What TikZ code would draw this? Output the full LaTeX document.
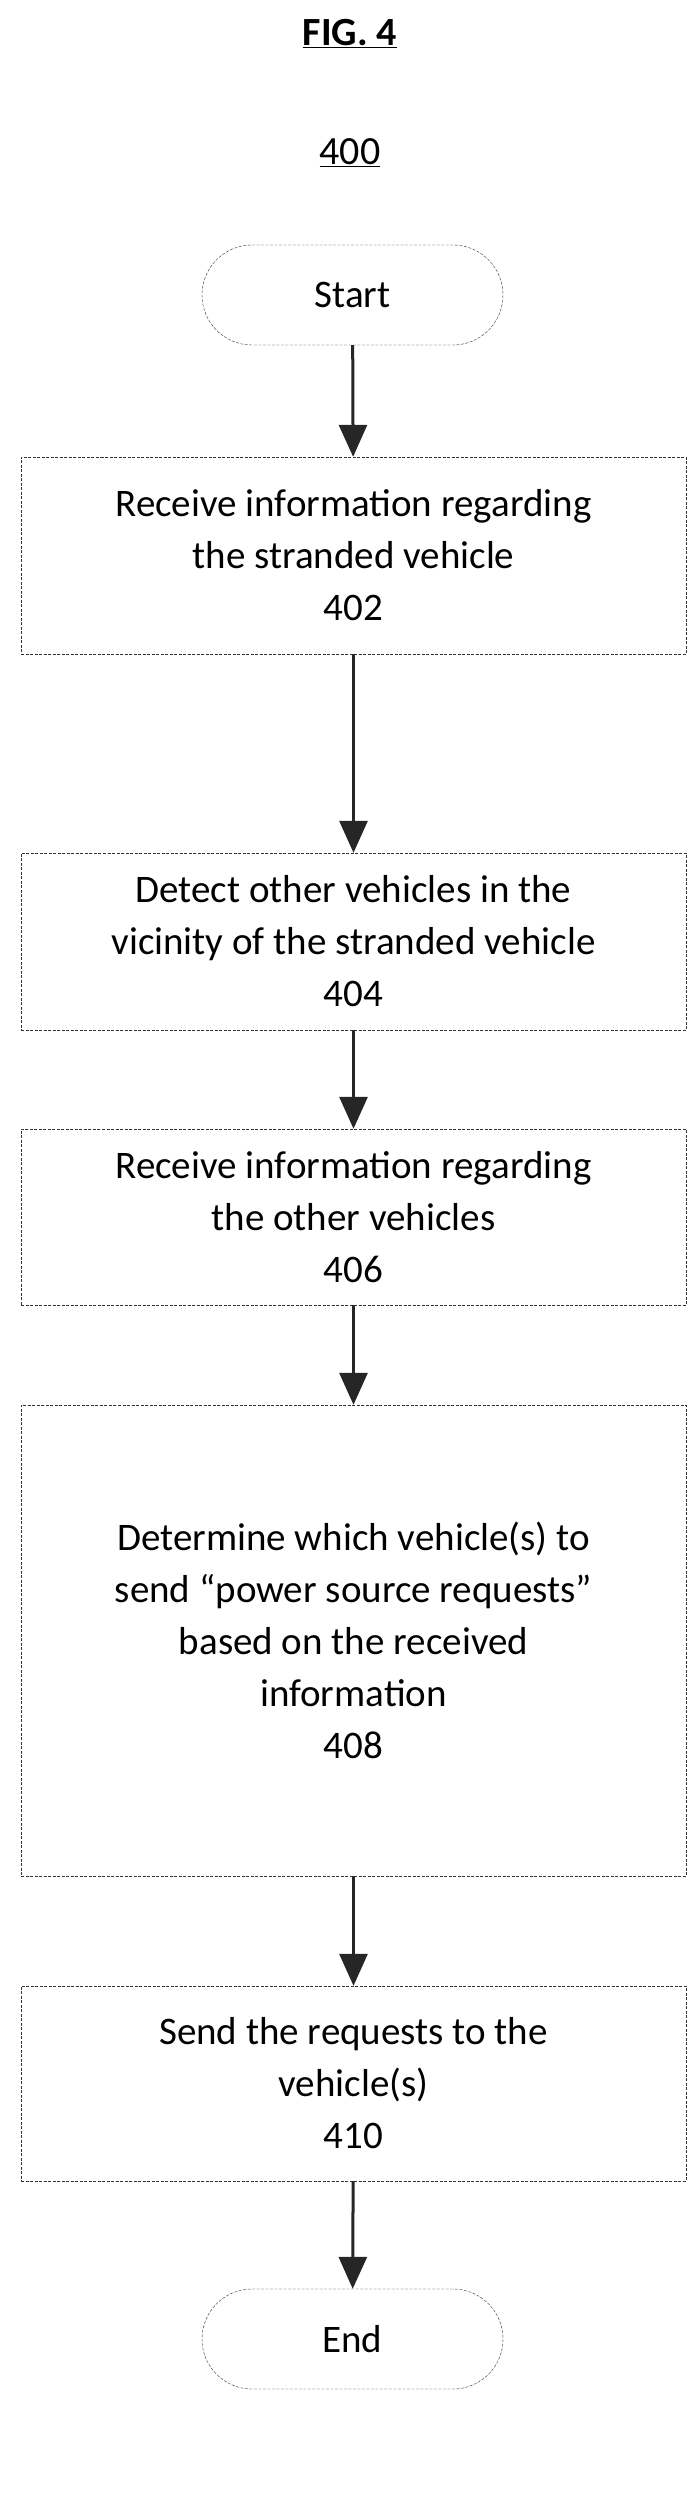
\documentclass[tikz,border=0pt]{standalone}
\usepackage{fontspec}
\setmainfont{Carlito}
\usetikzlibrary{arrows.meta}
\begin{document}
\begin{tikzpicture}[
    x=1pt, y=-1pt,
    txt/.style={font=\fontsize{39}{52}\selectfont, align=center},
    stage/.style={txt, draw=black!80, dash pattern=on 3pt off 1.5pt, rectangle, minimum width=665pt, inner sep=0pt},
    term/.style={txt, draw=black!80, dash pattern=on 3pt off 1.5pt, rectangle, minimum width=301pt, minimum height=100pt, rounded corners=50pt},
    flow/.style={-{Triangle[length=32pt, width=28pt]}, line width=3pt, black!85}
  ]
  \useasboundingbox (0,0) rectangle (700,2516);

  % Title and reference number
  \node[font=\fontsize{40}{48}\selectfont\bfseries] (fig) at (350,34) {\underline{FIG. 4}};
  \node[font=\fontsize{40}{48}\selectfont] (num) at (350,153) {\underline{400}};

  % Flow chart
  \node[term] (start) at (352.5,295) {Start};
  \node[stage, minimum height=197pt] (s402) at (353.5,555.5) {Receive information regarding\\ the stranded vehicle\\ 402};
  \node[stage, minimum height=177pt] (s404) at (353.5,941.5) {Detect other vehicles in the\\ vicinity of the stranded vehicle\\ 404};
  \node[stage, minimum height=176pt] (s406) at (353.5,1217) {Receive information regarding\\ the other vehicles\\ 406};
  \node[stage, minimum height=471pt] (s408) at (353.5,1640.5) {Determine which vehicle(s) to\\ send “power source requests”\\ based on the received\\ information\\ 408};
  \node[stage, minimum height=195pt] (s410) at (353.5,2083.5) {Send the requests to the\\ vehicle(s)\\ 410};
  \node[term] (end) at (352.5,2339) {End};

  % Arrows
  \foreach \a/\b in {start/s402, s402/s404, s404/s406, s406/s408, s408/s410, s410/end}
    \draw[flow] (\a) -- (\b);

\end{tikzpicture}
\end{document}
